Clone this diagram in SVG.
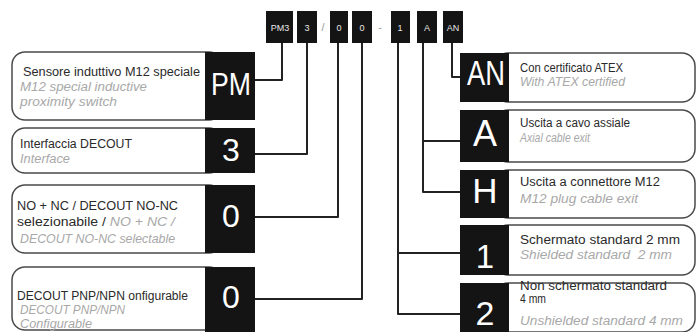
<svg xmlns="http://www.w3.org/2000/svg" width="697" height="332" viewBox="0 0 697 332">
<style>
.lbl{fill:#fff;stroke:#4a4a4a;stroke-width:1.5}
.blk{fill:#141414}
.big{font-family:"Liberation Sans",Arial,sans-serif;fill:#fff;text-anchor:middle}
.t{font-family:"Liberation Sans",Arial,sans-serif;font-size:12px;fill:#2a2a2a}
.g{font-family:"Liberation Sans",Arial,sans-serif;font-size:12px;fill:#a8a8a8;font-style:italic}
.code{font-family:"Liberation Sans",Arial,sans-serif;font-size:9px;fill:#e8e8e8;text-anchor:middle}
.sep{font-family:"Liberation Sans",Arial,sans-serif;font-size:11px;fill:#999;text-anchor:middle}
.cn{fill:none;stroke:#222;stroke-width:2;stroke-linejoin:round}
</style>
<rect width="697" height="332" fill="#fff"/>

<g id="code">
<rect class="blk" x="266" y="11" width="27" height="32"/><text class="code" x="280" y="31">PM3</text>
<rect class="blk" x="297" y="11" width="20" height="32"/><text class="code" x="307" y="31">3</text>
<text class="sep" x="323" y="31">/</text>
<rect class="blk" x="330" y="11" width="18" height="32"/><text class="code" x="339" y="31">0</text>
<rect class="blk" x="352" y="11" width="20" height="32"/><text class="code" x="362" y="31">0</text>
<text class="sep" x="380" y="31">-</text>
<rect class="blk" x="391" y="11" width="19" height="32"/><text class="code" x="400" y="31">1</text>
<rect class="blk" x="417" y="11" width="20" height="32"/><text class="code" x="427" y="31">A</text>
<rect class="blk" x="443" y="11" width="20" height="32"/><text class="code" x="453" y="31">AN</text>
</g>

<g id="connectors">
<path class="cn" d="M282 43 V80 H255"/>
<path class="cn" d="M307 43 V154 H255"/>
<path class="cn" d="M338 43 V217 H255"/>
<path class="cn" d="M362 43 V299 H255"/>
<path class="cn" d="M398 43 V314 H460 M398 253 H460"/>
<path class="cn" d="M423 43 V192 H460 M423 141 H460"/>
<path class="cn" d="M452 43 V77 H460"/>
</g>

<g id="n-pm">
<rect class="lbl" x="12" y="52" width="210" height="68" rx="13"/>
<rect class="blk" x="205" y="52" width="50" height="68"/>
<text class="big" x="231" y="95" font-size="32" textLength="40" lengthAdjust="spacingAndGlyphs">PM</text>
<text class="t" x="23" y="76" textLength="177" lengthAdjust="spacingAndGlyphs">Sensore induttivo M12 speciale</text>
<text class="g" x="20" y="91" textLength="127" lengthAdjust="spacingAndGlyphs">M12 special inductive</text>
<text class="g" x="20" y="106" textLength="97" lengthAdjust="spacingAndGlyphs">proximity switch</text>
</g>

<g id="n-3">
<rect class="lbl" x="12" y="128" width="210" height="45" rx="13"/>
<rect class="blk" x="205" y="128" width="50" height="45"/>
<text class="big" x="231" y="161" font-size="32">3</text>
<text class="t" x="20" y="148" textLength="112" lengthAdjust="spacingAndGlyphs">Interfaccia DECOUT</text>
<text class="g" x="20" y="163" textLength="50" lengthAdjust="spacingAndGlyphs">Interface</text>
</g>

<g id="n-0a">
<rect class="lbl" x="12" y="185" width="210" height="68" rx="13"/>
<rect class="blk" x="205" y="185" width="50" height="68"/>
<text class="big" x="231" y="227" font-size="32">0</text>
<text class="t" x="17" y="210" textLength="161" lengthAdjust="spacingAndGlyphs">NO + NC / DECOUT NO-NC</text>
<text class="t" x="17" y="226" textLength="158" lengthAdjust="spacingAndGlyphs">selezionabile / <tspan class="g">NO + NC /</tspan></text>
<text class="g" x="20" y="243" textLength="155" lengthAdjust="spacingAndGlyphs">DECOUT NO-NC selectable</text>
</g>

<g id="n-0b">
<rect class="lbl" x="12" y="267" width="210" height="63" rx="13"/>
<rect class="blk" x="205" y="267" width="50" height="65"/>
<text class="big" x="231" y="308" font-size="32">0</text>
<text class="t" x="17" y="300" textLength="171" lengthAdjust="spacingAndGlyphs">DECOUT PNP/NPN onfigurable</text>
<text class="g" x="20" y="314" font-size="11" textLength="105" lengthAdjust="spacingAndGlyphs">DECOUT PNP/NPN</text>
<text class="g" x="20" y="328" font-size="10.5" textLength="72" lengthAdjust="spacingAndGlyphs">Configurable</text>
</g>

<g id="n-an">
<rect class="lbl" x="495" y="53" width="200" height="49" rx="13"/>
<rect class="blk" x="460" y="53" width="49" height="49"/>
<text class="big" x="486" y="85" font-size="35" textLength="38" lengthAdjust="spacingAndGlyphs">AN</text>
<text class="t" x="520" y="72" textLength="103" lengthAdjust="spacingAndGlyphs">Con certificato ATEX</text>
<text class="g" x="520" y="86" textLength="105" lengthAdjust="spacingAndGlyphs">With ATEX certified</text>
</g>

<g id="n-a">
<rect class="lbl" x="495" y="110" width="200" height="52" rx="13"/>
<rect class="blk" x="460" y="110" width="49" height="52"/>
<text class="big" x="485" y="146" font-size="36">A</text>
<text class="t" x="520" y="127" textLength="110" lengthAdjust="spacingAndGlyphs">Uscita a cavo assiale</text>
<text class="g" x="520" y="142" textLength="70" lengthAdjust="spacingAndGlyphs">Axial cable exit</text>
</g>

<g id="n-h">
<rect class="lbl" x="495" y="170" width="200" height="48" rx="13"/>
<rect class="blk" x="460" y="170" width="49" height="48"/>
<text class="big" x="485" y="203" font-size="35">H</text>
<text class="t" x="520" y="186" textLength="140" lengthAdjust="spacingAndGlyphs">Uscita a connettore M12</text>
<text class="g" x="520" y="203" textLength="118" lengthAdjust="spacingAndGlyphs">M12 plug cable exit</text>
</g>

<g id="n-1">
<rect class="lbl" x="495" y="225" width="200" height="50" rx="13"/>
<rect class="blk" x="460" y="225" width="49" height="50"/>
<text class="big" x="485" y="268" font-size="33">1</text>
<text class="t" x="520" y="244" textLength="160" lengthAdjust="spacingAndGlyphs">Schermato standard 2 mm</text>
<text class="g" x="520" y="259" textLength="152" lengthAdjust="spacingAndGlyphs" xml:space="preserve">Shielded standard  2 mm</text>
</g>

<g id="n-2">
<rect class="lbl" x="495" y="283" width="200" height="49" rx="13"/>
<rect class="blk" x="460" y="283" width="49" height="49"/>
<text class="big" x="485" y="325" font-size="34">2</text>
<text class="t" x="520" y="290" font-size="10.5" textLength="147" lengthAdjust="spacingAndGlyphs">Non schermato standard</text>
<text class="t" x="520" y="303" font-size="10.5" textLength="26" lengthAdjust="spacingAndGlyphs">4 mm</text>
<text class="g" x="520" y="325" textLength="163" lengthAdjust="spacingAndGlyphs">Unshielded standard 4 mm</text>
</g>
</svg>
